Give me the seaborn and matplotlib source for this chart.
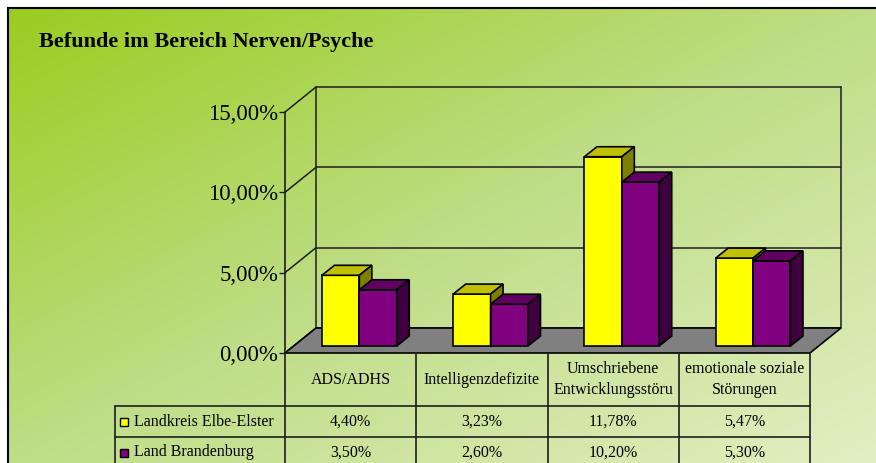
import numpy as np
import pandas as pd
import matplotlib
matplotlib.use("Agg")
import matplotlib.pyplot as plt
from matplotlib.patches import Polygon, Rectangle
from matplotlib.colors import LinearSegmentedColormap
from matplotlib.transforms import blended_transform_factory
import seaborn as sns

# ── data ────────────────────────────────────────────────────────────────────
categories = ["ADS/ADHS", "Intelligenzdefizite",
              "Umschriebene\nEntwicklungsstöru", "emotionale soziale\nStörungen"]
series = ["Landkreis Elbe-Elster", "Land Brandenburg"]
elbe_elster = [4.40, 3.23, 11.78, 5.47]
brandenburg = [3.50, 2.60, 10.20, 5.30]
yticks = [0, 5, 10, 15]

TITLE = "Befunde im Bereich Nerven/Psyche"

# ── style ───────────────────────────────────────────────────────────────────
sns.set_style("white")
plt.rcParams["font.family"] = ["Liberation Serif", "DejaVu Serif"]
plt.rcParams["text.color"] = "black"
plt.rcParams["ytick.color"] = "black"
plt.rcParams["ytick.labelcolor"] = "black"

FRONT = ["#FFFF00", "#800080"]
TOP = ["#C0C000", "#600060"]
SIDE = ["#808000", "#400040"]
LINE = "#1e1e1e"

W, H, DPI = 876, 463, 100
fig = plt.figure(figsize=(W / DPI, H / DPI), dpi=DPI)
fig.patch.set_facecolor("white")

# background gradient inside the chart frame
bg = fig.add_axes([8 / W, 0, 1 - 8 / W, 1 - 8 / H], zorder=-10)
gx, gy = np.meshgrid(np.linspace(0, 1, 300), np.linspace(0, 1, 200))
grad = (gx + gy) / 2
cmap = LinearSegmentedColormap.from_list(
    "bg", [(0, "#9ACD20"), (0.5, "#BFDD86"), (1, "#E2EFC2")])
bg.imshow(grad, cmap=cmap, aspect="auto", extent=[0, 1, 0, 1], origin="upper")
bg.set_xticks([]); bg.set_yticks([])
for s in ["right", "bottom"]:
    bg.spines[s].set_visible(False)
for s in ["left", "top"]:
    bg.spines[s].set_linewidth(1.5)
    bg.spines[s].set_color("black")

fig.text(39 / W, 1 - 42 / H, TITLE, fontsize=16, fontweight="bold",
         ha="left", va="center", color="black")

# front plane of the plot
x0, x1, y0, y1 = 285, 810, 353, 112
ax = fig.add_axes([x0 / W, 1 - y0 / H, (x1 - x0) / W, (y0 - y1) / H])
ax.set_facecolor("none")

df = pd.DataFrame({
    "Befund": categories * 2,
    "Gebiet": [series[0]] * 4 + [series[1]] * 4,
    "Wert": elbe_elster + brandenburg,
})
sns.barplot(data=df, x="Befund", y="Wert", hue="Gebiet", palette=FRONT,
            saturation=1, width=0.57, edgecolor="black", linewidth=1.2,
            legend=False, ax=ax, zorder=3)

ax.set_xlim(-0.5, 3.5)
ax.set_ylim(0, 15)
ax.set_yticks(yticks)
ax.set_yticklabels([f"{v:.2f}".replace(".", ",") + "%" for v in yticks],
                   fontsize=16.5)
ax.set_xticks([])
ax.set_xlabel(""); ax.set_ylabel("")
ax.tick_params(axis="y", length=4, width=1, color=LINE, pad=1, left=True)
for s in ["top", "right", "bottom"]:
    ax.spines[s].set_visible(False)
ax.spines["left"].set_color(LINE)
ax.spines["left"].set_linewidth(1.2)

# pixel -> data conversion
px_x = (ax.get_xlim()[1] - ax.get_xlim()[0]) / (x1 - x0)
px_y = (ax.get_ylim()[1] - ax.get_ylim()[0]) / (y0 - y1)
wall_dx, wall_dy = 31 * px_x, 25 * px_y
off_dx, off_dy = 8.7 * px_x, 7 * px_y
bar_dx, bar_dy = 12.5 * px_x, 10 * px_y

# back wall and side lines
xl, xr = ax.get_xlim()
for v in yticks:
    ax.plot([xl, xl + wall_dx], [v, v + wall_dy], color=LINE, lw=1.1,
            clip_on=False, zorder=1)
    ax.plot([xl + wall_dx, xr + wall_dx], [v + wall_dy] * 2, color=LINE,
            lw=1.1, clip_on=False, zorder=1)
for xx in [xl + wall_dx, xr + wall_dx]:
    ax.plot([xx, xx], [wall_dy, 15 + wall_dy], color=LINE, lw=1.1,
            clip_on=False, zorder=1)

# floor
floor = Polygon([(xl, 0), (xr, 0), (xr + wall_dx, wall_dy), (xl + wall_dx, wall_dy)],
                closed=True, facecolor="#808080", edgecolor="black", lw=1.2,
                clip_on=False, zorder=2)
bars = list(ax.patches)
ax.add_patch(floor)

# 3d faces of the bars, built from the seaborn patches
for i, p in enumerate(bars):
    k = i // len(categories)
    p.set_x(p.get_x() + off_dx)
    p.set_y(p.get_y() + off_dy)
    p.set_zorder(3 + 2 * k)
    p.set_clip_on(False)
    bx, by, bw, bh = p.get_x(), p.get_y(), p.get_width(), p.get_height()
    top = [(bx, by + bh), (bx + bw, by + bh),
           (bx + bw + bar_dx, by + bh + bar_dy), (bx + bar_dx, by + bh + bar_dy)]
    side = [(bx + bw, by), (bx + bw + bar_dx, by + bar_dy),
            (bx + bw + bar_dx, by + bh + bar_dy), (bx + bw, by + bh)]
    ax.add_patch(Polygon(top, closed=True, facecolor=TOP[k], edgecolor="black",
                         lw=1.2, clip_on=False, zorder=3 + 2 * k))
    ax.add_patch(Polygon(side, closed=True, facecolor=SIDE[k], edgecolor="black",
                         lw=1.2, clip_on=False, zorder=3 + 2 * k))

# data table below the plot
tr = blended_transform_factory(ax.transData, ax.transAxes)
row_h = 31 / (y0 - y1)
head_h = 53 / (y0 - y1)
left = xl - 170 * px_x
bottom = -(H - y0) / (y0 - y1)
for xx in np.arange(xl, xr + 0.5, 1.0):
    ax.plot([xx, xx], [0, bottom], transform=tr, color=LINE, lw=1.2, clip_on=False)
ax.plot([left, left], [-head_h, bottom], transform=tr, color=LINE, lw=1.2, clip_on=False)
for yy in [-head_h, -head_h - row_h]:
    ax.plot([left, xr], [yy, yy], transform=tr, color=LINE, lw=1.2, clip_on=False)

for j, cat in enumerate(categories):
    ax.text(j, -head_h / 2, cat, transform=tr, ha="center", va="center",
            fontsize=11.5, linespacing=1.4)
for r, (name, vals) in enumerate(zip(series, [elbe_elster, brandenburg])):
    yc = -head_h - row_h * (r + 0.5)
    ax.add_patch(Rectangle((left + 5 * px_x, yc - 4 / (y0 - y1)), 8 * px_x,
                           8 / (y0 - y1), transform=tr, facecolor=FRONT[r],
                           edgecolor="black", lw=1, clip_on=False))
    ax.text(left + 19 * px_x, yc, name, transform=tr, ha="left", va="center",
            fontsize=11.5)
    for j, v in enumerate(vals):
        ax.text(j, yc, f"{v:.2f}".replace(".", ",") + "%", transform=tr,
                ha="center", va="center", fontsize=11.5)

fig.savefig("out.png", dpi=DPI, facecolor="white")
